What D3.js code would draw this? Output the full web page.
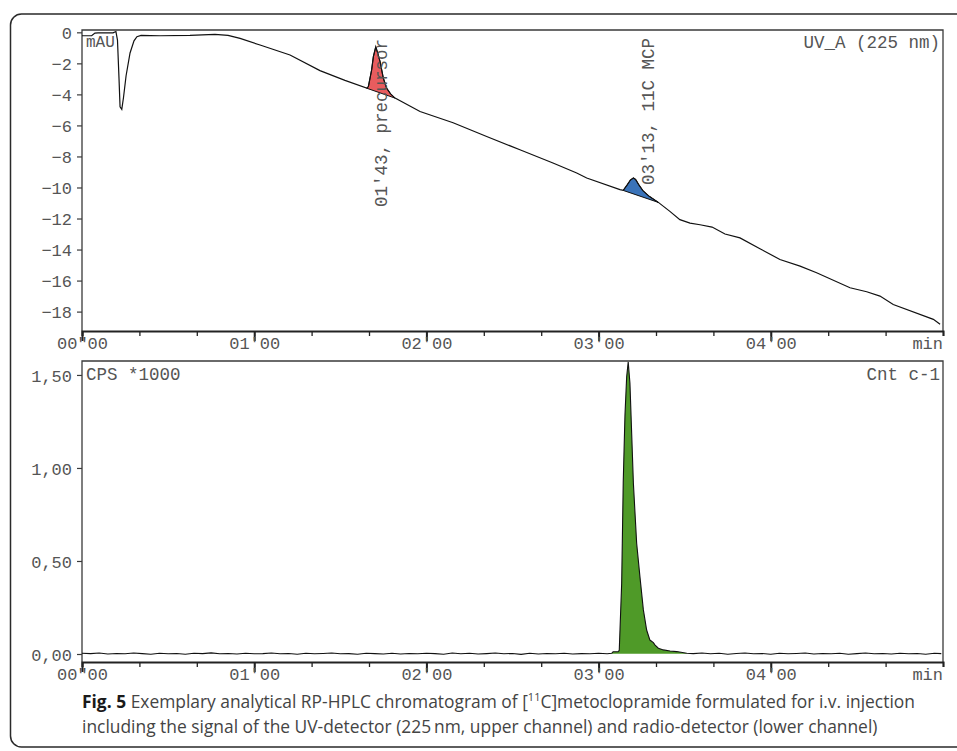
<!DOCTYPE html>
<html><head><meta charset="utf-8">
<script src="https://cdn.jsdelivr.net/npm/d3@7/dist/d3.min.js"></script>
<style>
body{margin:0;background:#fff;}
svg{display:block;}
.mono{font-family:"Liberation Mono","Courier New",monospace;fill:#555;}
</style></head>
<body>
<svg id="c" width="957" height="751"></svg>
<script>
// ---------- DATA ----------
// UV channel (225 nm): time in minutes, signal in mAU
const uvTime = [0,0.056,0.075,0.093,0.18,0.197,0.206,0.215,0.221,0.231,0.241,0.256,0.279,0.302,0.319,0.343,0.453,0.627,0.772,0.848,0.918,1.034,1.208,1.382,1.527,1.653,1.663,1.682,1.692,1.706,1.719,1.731,1.75,1.769,1.792,1.818,1.963,2.155,2.35,2.543,2.735,2.873,2.931,3.124,3.143,3.165,3.185,3.202,3.215,3.232,3.257,3.294,3.347,3.414,3.472,3.531,3.589,3.659,3.734,3.821,3.937,4.053,4.17,4.266,4.46,4.557,4.634,4.711,4.944,4.983];
const uvValue = [-0.22,-0.22,-0.05,-0.03,-0.03,0.05,-0.5,-3.0,-4.8,-4.96,-4.2,-2.8,-1.33,-0.55,-0.28,-0.2,-0.22,-0.2,-0.13,-0.2,-0.39,-0.82,-1.46,-2.47,-3.1,-3.6,-3.5,-2.42,-1.57,-0.93,-1.4,-1.89,-2.96,-3.6,-3.97,-4.24,-5.1,-5.83,-6.71,-7.57,-8.42,-9.07,-9.39,-10.14,-10.19,-9.85,-9.52,-9.39,-9.48,-9.8,-10.2,-10.57,-10.96,-11.54,-12.07,-12.3,-12.4,-12.55,-13.0,-13.25,-13.95,-14.64,-15.07,-15.5,-16.46,-16.72,-17.0,-17.54,-18.5,-18.82];
const uvPeakNames = ["01'43, precursor","03'13, 11C MCP"];
const uvPeakStart = [1.653,3.143];
const uvPeakEnd = [1.818,3.347];
const uvPeakLabelTime = [1.77,3.32];
const uvPeakColors = ["#e85c5e","#3a73b9"];

// Radio channel: time in minutes, CPS *1000
const radioTime = [0,0.05,0.1,0.15,0.2,0.25,0.3,0.35,0.4,0.45,0.5,0.55,0.6,0.65,0.7,0.75,0.8,0.85,0.9,0.95,1.0,1.05,1.1,1.15,1.2,1.25,1.3,1.35,1.4,1.45,1.5,1.55,1.6,1.65,1.7,1.75,1.8,1.85,1.9,1.95,2.0,2.05,2.1,2.15,2.2,2.25,2.3,2.35,2.4,2.45,2.5,2.55,2.6,2.65,2.7,2.75,2.8,2.85,2.9,2.95,3.0,3.05,3.076,3.084,3.113,3.120,3.134,3.143,3.153,3.163,3.172,3.182,3.192,3.202,3.221,3.240,3.260,3.279,3.298,3.318,3.328,3.347,3.376,3.415,3.453,3.512,3.55,3.6,3.65,3.7,3.75,3.8,3.85,3.9,3.95,4.0,4.05,4.1,4.15,4.2,4.25,4.3,4.35,4.4,4.45,4.5,4.55,4.6,4.65,4.7,4.75,4.8,4.85,4.9,4.95,4.99];
const radioValue = [0.004,0.002,0.005,0.000,0.003,0.001,0.005,0.002,-0.001,0.004,0.001,0.003,-0.001,0.004,0.002,0.006,0.001,0.003,0.000,0.004,0.001,0.002,0.005,0.001,0.003,-0.001,0.004,0.001,0.003,0.005,0.001,0.002,-0.001,0.004,0.002,0.000,0.004,0.000,0.003,0.001,0.004,0.002,-0.001,0.005,0.001,0.004,0.000,0.002,0.005,0.001,0.003,-0.002,0.004,0.000,0.003,0.001,0.004,0.000,0.002,0.001,0.004,0.001,0.004,0.012,0.012,0.02,0.38,0.92,1.28,1.49,1.57,1.455,1.186,0.918,0.595,0.416,0.237,0.129,0.075,0.061,0.048,0.031,0.022,0.016,0.013,0.004,0.002,0.005,0.001,0.004,-0.001,0.003,0.005,0.001,0.003,-0.001,0.004,0.001,0.003,0.005,0.000,0.003,0.001,0.004,-0.001,0.002,0.005,0.001,0.003,0.000,0.004,0.001,0.003,-0.001,0.004,0.002];
const radioPeakStart = 3.076;
const radioPeakEnd = 3.512;
const radioPeakColor = "#4f9a28";

// Axis tick labels
const xMajorTicks = [0,1,2,3,4];
const xMajorLabels = ["00\"00","01'00","02'00","03'00","04'00"];
const xUnitLabel = "min";
const uvTicks = [0,-2,-4,-6,-8,-10,-12,-14,-16,-18];
const radioTicks = [0,0.5,1.0,1.5];
const radioTickLabels = ["0,00","0,50","1,00","1,50"];
const uvUnit = "mAU", uvChannel = "UV_A (225 nm)";
const radioUnit = "CPS *1000", radioChannel = "Cnt c-1";

// ---------- LAYOUT ----------
const svg = d3.select("#c");
const L = 82, R = 943;
const top1 = 30, bot1 = 331, top2 = 361, bot2 = 662;
const x = d3.scaleLinear([0,5],[L,R]);
const yU = d3.scaleLinear([-19.25,0.15],[bot1,top1]);
const yR = d3.scaleLinear([-0.043,1.575],[bot2,top2]);

// outer frame
svg.append("rect").attr("x",10.5).attr("y",14).attr("width",1000).attr("height",733)
  .attr("rx",11).attr("fill","none").attr("stroke","#2a2a2a").attr("stroke-width",1.5);

function panel(yS, t, b, ticks, fmt){
  svg.append("path").attr("d",`M${L},${b}V${t}H${R}V${b}`).attr("fill","none")
    .attr("stroke","#3a3a3a").attr("stroke-width",1.3);
  const ay = svg.append("g").attr("transform",`translate(${L},0)`)
    .call(d3.axisLeft(yS).tickValues(ticks).tickSize(5).tickPadding(5).tickFormat(fmt));
  ay.select(".domain").remove();
  ay.selectAll("line").attr("stroke","#3a3a3a").attr("stroke-width",1.2);
  ay.selectAll("text").attr("class","mono").attr("font-size",17).attr("dy","0.36em").attr("fill","#555");
  const minor = d3.range(0,16).map(i=>i/3);
  const ax = svg.append("g").attr("transform",`translate(0,${b})`)
    .call(d3.axisBottom(x).tickValues(minor).tickSize(5).tickFormat(""));
  ax.select(".domain").attr("stroke","#222").attr("stroke-width",2);
  ax.selectAll("line").attr("stroke","#222").attr("stroke-width",1.3);
  const axM = svg.append("g").attr("transform",`translate(0,${b})`)
    .call(d3.axisBottom(x).tickValues(xMajorTicks).tickSize(10).tickPadding(0).tickFormat((d,i)=>xMajorLabels[i]));
  axM.select(".domain").remove();
  axM.selectAll("line").attr("stroke","#222").attr("stroke-width",2);
  axM.selectAll("text").attr("class","mono").attr("font-size",17).attr("y",18).attr("dy",0).attr("fill","#444");
  svg.append("text").attr("class","mono").attr("font-size",17).attr("fill","#444")
    .attr("x",x(5)).attr("y",b+18).attr("text-anchor","end").text(xUnitLabel);
}
panel(yU, top1, bot1, uvTicks, d=>d3.format("d")(d).replace("-","\u2212"));
panel(yR, top2, bot2, radioTicks, (d,i)=>radioTickLabels[i]);

svg.append("text").attr("class","mono").attr("font-size",16).attr("x",L+4).attr("y",top1+17).text(uvUnit);
svg.append("text").attr("class","mono").attr("font-size",17.5).attr("x",R-3).attr("y",top1+18).attr("text-anchor","end").text(uvChannel);
svg.append("text").attr("class","mono").attr("font-size",17.5).attr("x",L+4).attr("y",top2+19).text(radioUnit);
svg.append("text").attr("class","mono").attr("font-size",17.5).attr("x",R-3).attr("y",top2+19).attr("text-anchor","end").text(radioChannel);

// UV trace
const uvData = uvTime.map((t,i)=>({t, v:uvValue[i]}));
uvPeakStart.forEach((s,k)=>{
  const pts = uvData.filter(d=>d.t>=s-1e-9 && d.t<=uvPeakEnd[k]+1e-9);
  svg.append("path").datum(pts)
    .attr("d", d3.line().x(d=>x(d.t)).y(d=>yU(d.v))(pts)+"Z")
    .attr("fill",uvPeakColors[k]).attr("stroke","#111").attr("stroke-width",1);
});
svg.append("path").datum(uvData)
  .attr("d", d3.line().x(d=>x(d.t)).y(d=>yU(d.v)))
  .attr("fill","none").attr("stroke","#111").attr("stroke-width",1.2);
uvPeakNames.forEach((n,k)=>{
  const px = x(uvPeakLabelTime[k]);
  svg.append("text").attr("class","mono").attr("font-size",17.5)
    .attr("transform",`translate(${px},${k===0?207:185}) rotate(-90)`).text(n);
});

// Radio trace
const rData = radioTime.map((t,i)=>({t, v:radioValue[i]}));
const rPk = rData.filter(d=>d.t>=radioPeakStart && d.t<=radioPeakEnd);
svg.append("path").datum(rPk)
  .attr("d", d3.area().x(d=>x(d.t)).y0(yR(0.002)).y1(d=>yR(d.v)))
  .attr("fill",radioPeakColor).attr("stroke","none");
svg.append("path").datum(rData)
  .attr("d", d3.line().x(d=>x(d.t)).y(d=>yR(d.v)))
  .attr("fill","none").attr("stroke","#111").attr("stroke-width",1.1);

// caption
const cap = svg.append("g").attr("font-family","'Open Sans',sans-serif").attr("font-size",17.4).attr("fill","#444");
const l1 = cap.append("text").attr("x",82).attr("y",708);
l1.append("tspan").attr("font-weight","bold").attr("fill","#1a1a1a").text("Fig. 5");
l1.append("tspan").text(" Exemplary analytical RP-HPLC chromatogram of [");
l1.append("tspan").attr("font-size",11).attr("dy",-7).text("11");
l1.append("tspan").attr("dy",7).text("C]metoclopramide formulated for i.v. injection");
cap.append("text").attr("x",82).attr("y",733)
  .text("including the signal of the UV-detector (225\u2009nm, upper channel) and radio-detector (lower channel)");
</script>
</body></html>
